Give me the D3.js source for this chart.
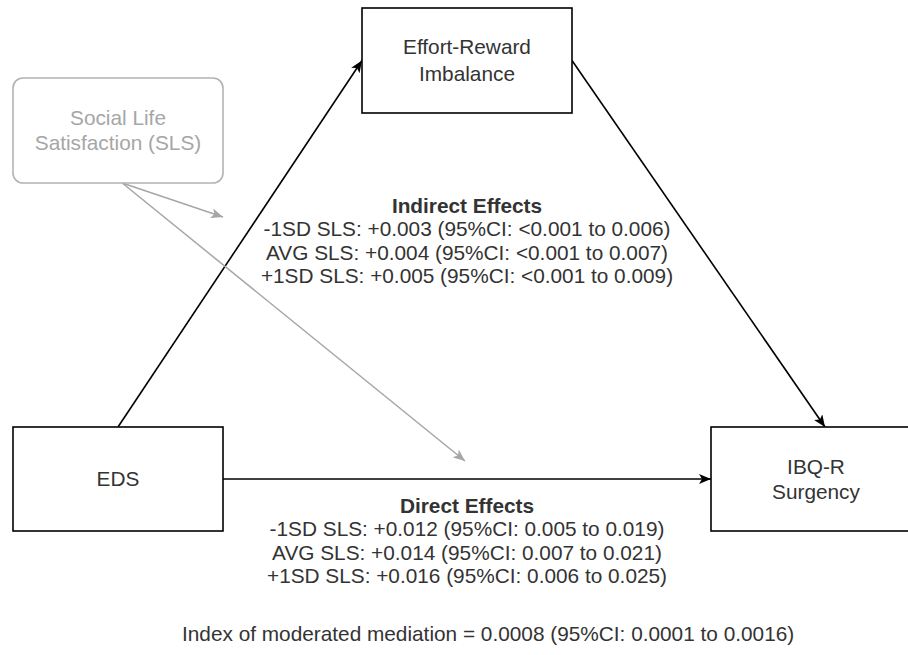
<!DOCTYPE html>
<html>
<head>
<meta charset="utf-8">
<script src="https://cdn.jsdelivr.net/npm/d3@7"></script>
<style>
  body { margin: 0; background: #fff; }
  text { font-family: "Liberation Sans", Arial, Helvetica, sans-serif; }
</style>
</head>
<body>
<div id="chart"></div>
<script>
// model variables (box labels)
var nodeIds = ["eds", "eri", "ibq", "sls"];
var nodeLabels = [["EDS"], ["Effort-Reward", "Imbalance"], ["IBQ-R", "Surgency"], ["Social Life", "Satisfaction (SLS)"]];

// conditional effects at levels of the moderator
var levels = ["-1SD SLS", "AVG SLS", "+1SD SLS"];
var indirectEst = ["+0.003", "+0.004", "+0.005"];
var indirectLow = ["<0.001", "<0.001", "<0.001"];
var indirectHigh = ["0.006", "0.007", "0.009"];
var directEst = ["+0.012", "+0.014", "+0.016"];
var directLow = ["0.005", "0.007", "0.006"];
var directHigh = ["0.019", "0.021", "0.025"];

// index of moderated mediation
var indexEst = "0.0008";
var indexLow = "0.0001";
var indexHigh = "0.0016";

var width = 908, height = 655;
var fontSize = 20.8;

var svg = d3.select("#chart")
    .append("svg")
    .attr("width", width)
    .attr("height", height);

// layout grid: unit coords -> pixels
var x = d3.scaleLinear().domain([0, 1]).range([0, width]);
var y = d3.scaleLinear().domain([0, 1]).range([0, height]);

// box layout (unit coords), kept apart from the data
var layout = {
    eds: {x0: 13 / 908, y0: 427 / 655, x1: 223 / 908, y1: 531 / 655, rx: 0, color: "#000", textColor: "#333", gap: 25},
    eri: {x0: 362 / 908, y0: 8 / 655, x1: 572 / 908, y1: 113 / 655, rx: 0, color: "#000", textColor: "#333", gap: 27},
    ibq: {x0: 711 / 908, y0: 427 / 655, x1: 921 / 908, y1: 531 / 655, rx: 0, color: "#000", textColor: "#333", gap: 25},
    sls: {x0: 13 / 908, y0: 78 / 655, x1: 223 / 908, y1: 183 / 655, rx: 10, color: "#b3b3b3", textColor: "#a6a6a6", gap: 25}
};

var nodes = nodeIds.map(function(id, i) {
    var l = layout[id];
    return {
        id: id, lines: nodeLabels[i],
        x: x(l.x0), y: y(l.y0), w: x(l.x1) - x(l.x0), h: y(l.y1) - y(l.y0),
        rx: l.rx, color: l.color, textColor: l.textColor, gap: l.gap
    };
});
var byId = {};
nodes.forEach(function(n) { byId[n.id] = n; });

// arrow markers
var defs = svg.append("defs");
[["arrowBlack", "#000"], ["arrowGray", "#a6a6a6"]].forEach(function(m) {
    defs.append("marker")
        .attr("id", m[0])
        .attr("viewBox", "0 0 12 10")
        .attr("refX", 12)
        .attr("refY", 5)
        .attr("markerWidth", 12)
        .attr("markerHeight", 10)
        .attr("markerUnits", "userSpaceOnUse")
        .attr("orient", "auto")
        .append("path")
        .attr("d", "M0,0 L12,5 L0,10 L3,5 Z")
        .attr("fill", m[1]);
});

// anchor points on boxes
function pt(id, fx, fy) {
    var n = byId[id];
    return [n.x + n.w * fx, n.y + n.h * fy];
}

var edges = [
    {from: pt("eds", 0.5, 0), to: pt("eri", 0, 0.5), color: "#000", marker: "arrowBlack", width: 1.6},
    {from: pt("eri", 1, 0.5), to: [x(825 / 908), byId.ibq.y], color: "#000", marker: "arrowBlack", width: 1.6},
    {from: pt("eds", 1, 0.5), to: pt("ibq", 0, 0.5), color: "#000", marker: "arrowBlack", width: 1.6},
    {from: pt("sls", 0.52, 1), to: [x(223 / 908), y(217 / 655)], color: "#a6a6a6", marker: "arrowGray", width: 1.5},
    {from: pt("sls", 0.52, 1), to: [x(465 / 908), y(461 / 655)], color: "#a6a6a6", marker: "arrowGray", width: 1.5}
];

svg.selectAll("line.edge")
    .data(edges)
    .enter()
    .append("line")
    .attr("class", "edge")
    .attr("x1", function(d) { return d.from[0]; })
    .attr("y1", function(d) { return d.from[1]; })
    .attr("x2", function(d) { return d.to[0]; })
    .attr("y2", function(d) { return d.to[1]; })
    .attr("stroke", function(d) { return d.color; })
    .attr("stroke-width", function(d) { return d.width; })
    .attr("marker-end", function(d) { return "url(#" + d.marker + ")"; });

// boxes
var box = svg.selectAll("g.node")
    .data(nodes)
    .enter()
    .append("g")
    .attr("class", "node");

box.append("rect")
    .attr("x", function(d) { return d.x; })
    .attr("y", function(d) { return d.y; })
    .attr("width", function(d) { return d.w; })
    .attr("height", function(d) { return d.h; })
    .attr("rx", function(d) { return d.rx; })
    .attr("fill", "#fff")
    .attr("stroke", function(d) { return d.color; })
    .attr("stroke-width", 1.6);

box.each(function(d) {
    var g = d3.select(this);
    var n = d.lines.length;
    d.lines.forEach(function(t, i) {
        g.append("text")
            .attr("x", d.x + d.w / 2)
            .attr("y", d.y + d.h / 2 + (i - (n - 1) / 2) * d.gap + 7)
            .attr("text-anchor", "middle")
            .attr("font-size", fontSize)
            .attr("fill", d.textColor)
            .text(t);
    });
});

// effect text blocks
function effectRows(est, low, high) {
    return levels.map(function(lv, i) {
        return lv + ": " + est[i] + " (95%CI: " + low[i] + " to " + high[i] + ")";
    });
}

function textBlock(cx, top, title, rows) {
    var g = svg.append("g");
    g.append("text")
        .attr("x", cx).attr("y", top)
        .attr("text-anchor", "middle")
        .attr("font-size", fontSize)
        .attr("font-weight", "bold")
        .attr("fill", "#333")
        .text(title);
    g.selectAll("text.row")
        .data(rows)
        .enter()
        .append("text")
        .attr("class", "row")
        .attr("x", cx)
        .attr("y", function(d, i) { return top + (i + 1) * 23.4; })
        .attr("text-anchor", "middle")
        .attr("font-size", fontSize)
        .attr("fill", "#333")
        .text(function(d) { return d; });
}

textBlock(x(467 / 908), y(213 / 655), "Indirect Effects", effectRows(indirectEst, indirectLow, indirectHigh));
textBlock(x(467 / 908), y(513 / 655), "Direct Effects", effectRows(directEst, directLow, directHigh));

svg.append("text")
    .attr("x", x(182 / 908))
    .attr("y", y(641 / 655))
    .attr("text-anchor", "start")
    .attr("font-size", fontSize)
    .attr("fill", "#333")
    .text("Index of moderated mediation = " + indexEst + " (95%CI: " + indexLow + " to " + indexHigh + ")");
</script>
</body>
</html>
